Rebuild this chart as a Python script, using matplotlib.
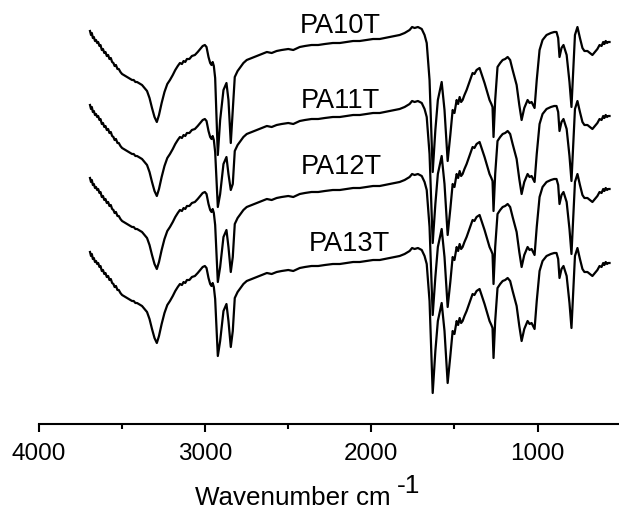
import matplotlib
matplotlib.use("Agg")
import matplotlib.pyplot as plt
import matplotlib.transforms as mtransforms

plt.rcParams['font.family'] = ['Liberation Sans', 'DejaVu Sans']

# PA10T spectrum as (wavenumber cm^-1, transmittance a.u.) pairs
pa10t_points = [
    (3693, 369), (3687, 365), (3682, 367), (3676, 362), (3670, 363), (3663, 359),
    (3657, 360), (3650, 357), (3644, 358), (3636, 354), (3630, 355), (3622, 350),
    (3615, 351), (3607, 347), (3600, 348), (3592, 344), (3584, 345), (3576, 341),
    (3568, 342), (3560, 338), (3552, 337), (3545, 334), (3537, 335), (3528, 331),
    (3520, 331), (3510, 328), (3500, 326), (3490, 325), (3480, 324), (3470, 323),
    (3460, 322), (3450, 321), (3440, 320), (3430, 320), (3420, 318), (3410, 318),
    (3400, 317), (3390, 316), (3380, 315), (3370, 313), (3360, 311), (3350, 309),
    (3335, 302), (3320, 292), (3305, 283), (3291, 278), (3278, 285), (3262, 297),
    (3245, 308), (3228, 316), (3212, 320), (3195, 325), (3180, 330), (3165, 334),
    (3152, 337), (3140, 336), (3130, 339), (3120, 338), (3110, 341), (3095, 341),
    (3080, 344), (3062, 345), (3045, 348), (3030, 351), (3015, 354), (3002, 355),
    (2992, 353), (2980, 343), (2970, 337), (2962, 335), (2955, 338), (2948, 334),
    (2940, 322), (2924, 245), (2910, 280), (2890, 310), (2872, 317), (2860, 300),
    (2846, 257), (2834, 290), (2822, 323), (2805, 329), (2792, 332), (2770, 337),
    (2750, 340), (2720, 342), (2690, 344), (2660, 346), (2629, 348), (2600, 347),
    (2570, 349), (2540, 350), (2500, 351), (2470, 350), (2431, 353), (2400, 354),
    (2360, 355), (2320, 355), (2280, 356), (2232, 357), (2190, 357), (2150, 358),
    (2110, 359), (2070, 359), (2028, 360), (1990, 361), (1950, 361), (1920, 362),
    (1890, 363), (1860, 364), (1830, 365), (1800, 367), (1770, 370), (1755, 373),
    (1740, 372), (1720, 373), (1697, 371), (1680, 365), (1667, 357), (1650, 320),
    (1631, 228), (1615, 270), (1600, 300), (1577, 318), (1560, 290), (1541, 239),
    (1525, 265), (1511, 290), (1500, 287), (1487, 300), (1478, 296), (1469, 303),
    (1460, 298), (1451, 300), (1440, 305), (1427, 310), (1410, 318), (1391, 327),
    (1380, 326), (1367, 330), (1358, 331), (1349, 332), (1335, 325), (1319, 317),
    (1300, 306), (1289, 300), (1278, 296), (1271, 293), (1265, 263), (1255, 300),
    (1241, 333), (1225, 337), (1210, 340), (1195, 341), (1180, 343), (1165, 340),
    (1150, 330), (1126, 315), (1110, 295), (1096, 280), (1080, 292), (1060, 300),
    (1048, 297), (1036, 298), (1018, 292), (1005, 320), (988, 350), (970, 360),
    (946, 365), (920, 367), (900, 368), (886, 368), (876, 362), (868, 343),
    (856, 352), (844, 355), (825, 345), (808, 318), (796, 293), (785, 330),
    (775, 365), (760, 373), (745, 362), (730, 352), (718, 349), (700, 349),
    (685, 347), (670, 345), (655, 348), (640, 351), (627, 355), (615, 354),
    (605, 358), (598, 356), (590, 359), (582, 357), (575, 358), (567, 358),
]

# Per-trace deviations from PA10T (wavenumber -> value)
overrides = {
    'PA11T': {2924: 267, 2846: 284, 1631: 231, 1541: 239},
    'PA12T': {2924: 265, 2846: 275, 1631: 232, 1541: 240},
    'PA13T': {2924: 265, 2846: 274, 1631: 228, 1541: 238},
}
names = ['PA10T', 'PA11T', 'PA12T', 'PA13T']
offsets = [0, -74, -147, -221]
label_x = [2190, 2184, 2178, 2130]
label_y = [374, 299, 233, 156]

wavenumber = [p[0] for p in pa10t_points]
pa10t = [p[1] for p in pa10t_points]

fig = plt.figure(figsize=(6.19, 5.11), dpi=100)
ax = fig.add_axes([39 / 619, 87 / 511, 580 / 619, 424 / 511])

for name, off in zip(names, offsets):
    vals = list(pa10t)
    for wn, v in overrides.get(name, {}).items():
        vals[wavenumber.index(wn)] = v
    ax.plot(wavenumber, [v + off for v in vals], color='black', lw=1.6,
            solid_joinstyle='round')

for name, lx, ly in zip(names, label_x, label_y):
    ax.text(lx, ly, name, fontsize=19.5, ha='center', va='center')

ax.set_xlim(4000, 510)
ax.set_ylim(-24, 400)
for s in ['top', 'right', 'left']:
    ax.spines[s].set_visible(False)
ax.spines['bottom'].set_linewidth(1.5)
ax.set_yticks([])
ax.set_xticks([4000, 3000, 2000, 1000])
ax.set_xticks([3500, 2500, 1500], minor=True)
ax.tick_params(axis='x', which='major', direction='out', length=6, width=1.5,
               labelsize=17.5, pad=8)
ax.tick_params(axis='x', which='minor', direction='out', length=3.5, width=1.5)

trans = mtransforms.blended_transform_factory(ax.transData, fig.transFigure)
ax.text(2470, 0.0125, 'Wavenumber cm', transform=trans, fontsize=18.7,
        ha='center', va='baseline')
ax.text(1848, 0.036, '-1', transform=trans, fontsize=19,
        ha='left', va='baseline')

fig.savefig('out.png', dpi=100)
